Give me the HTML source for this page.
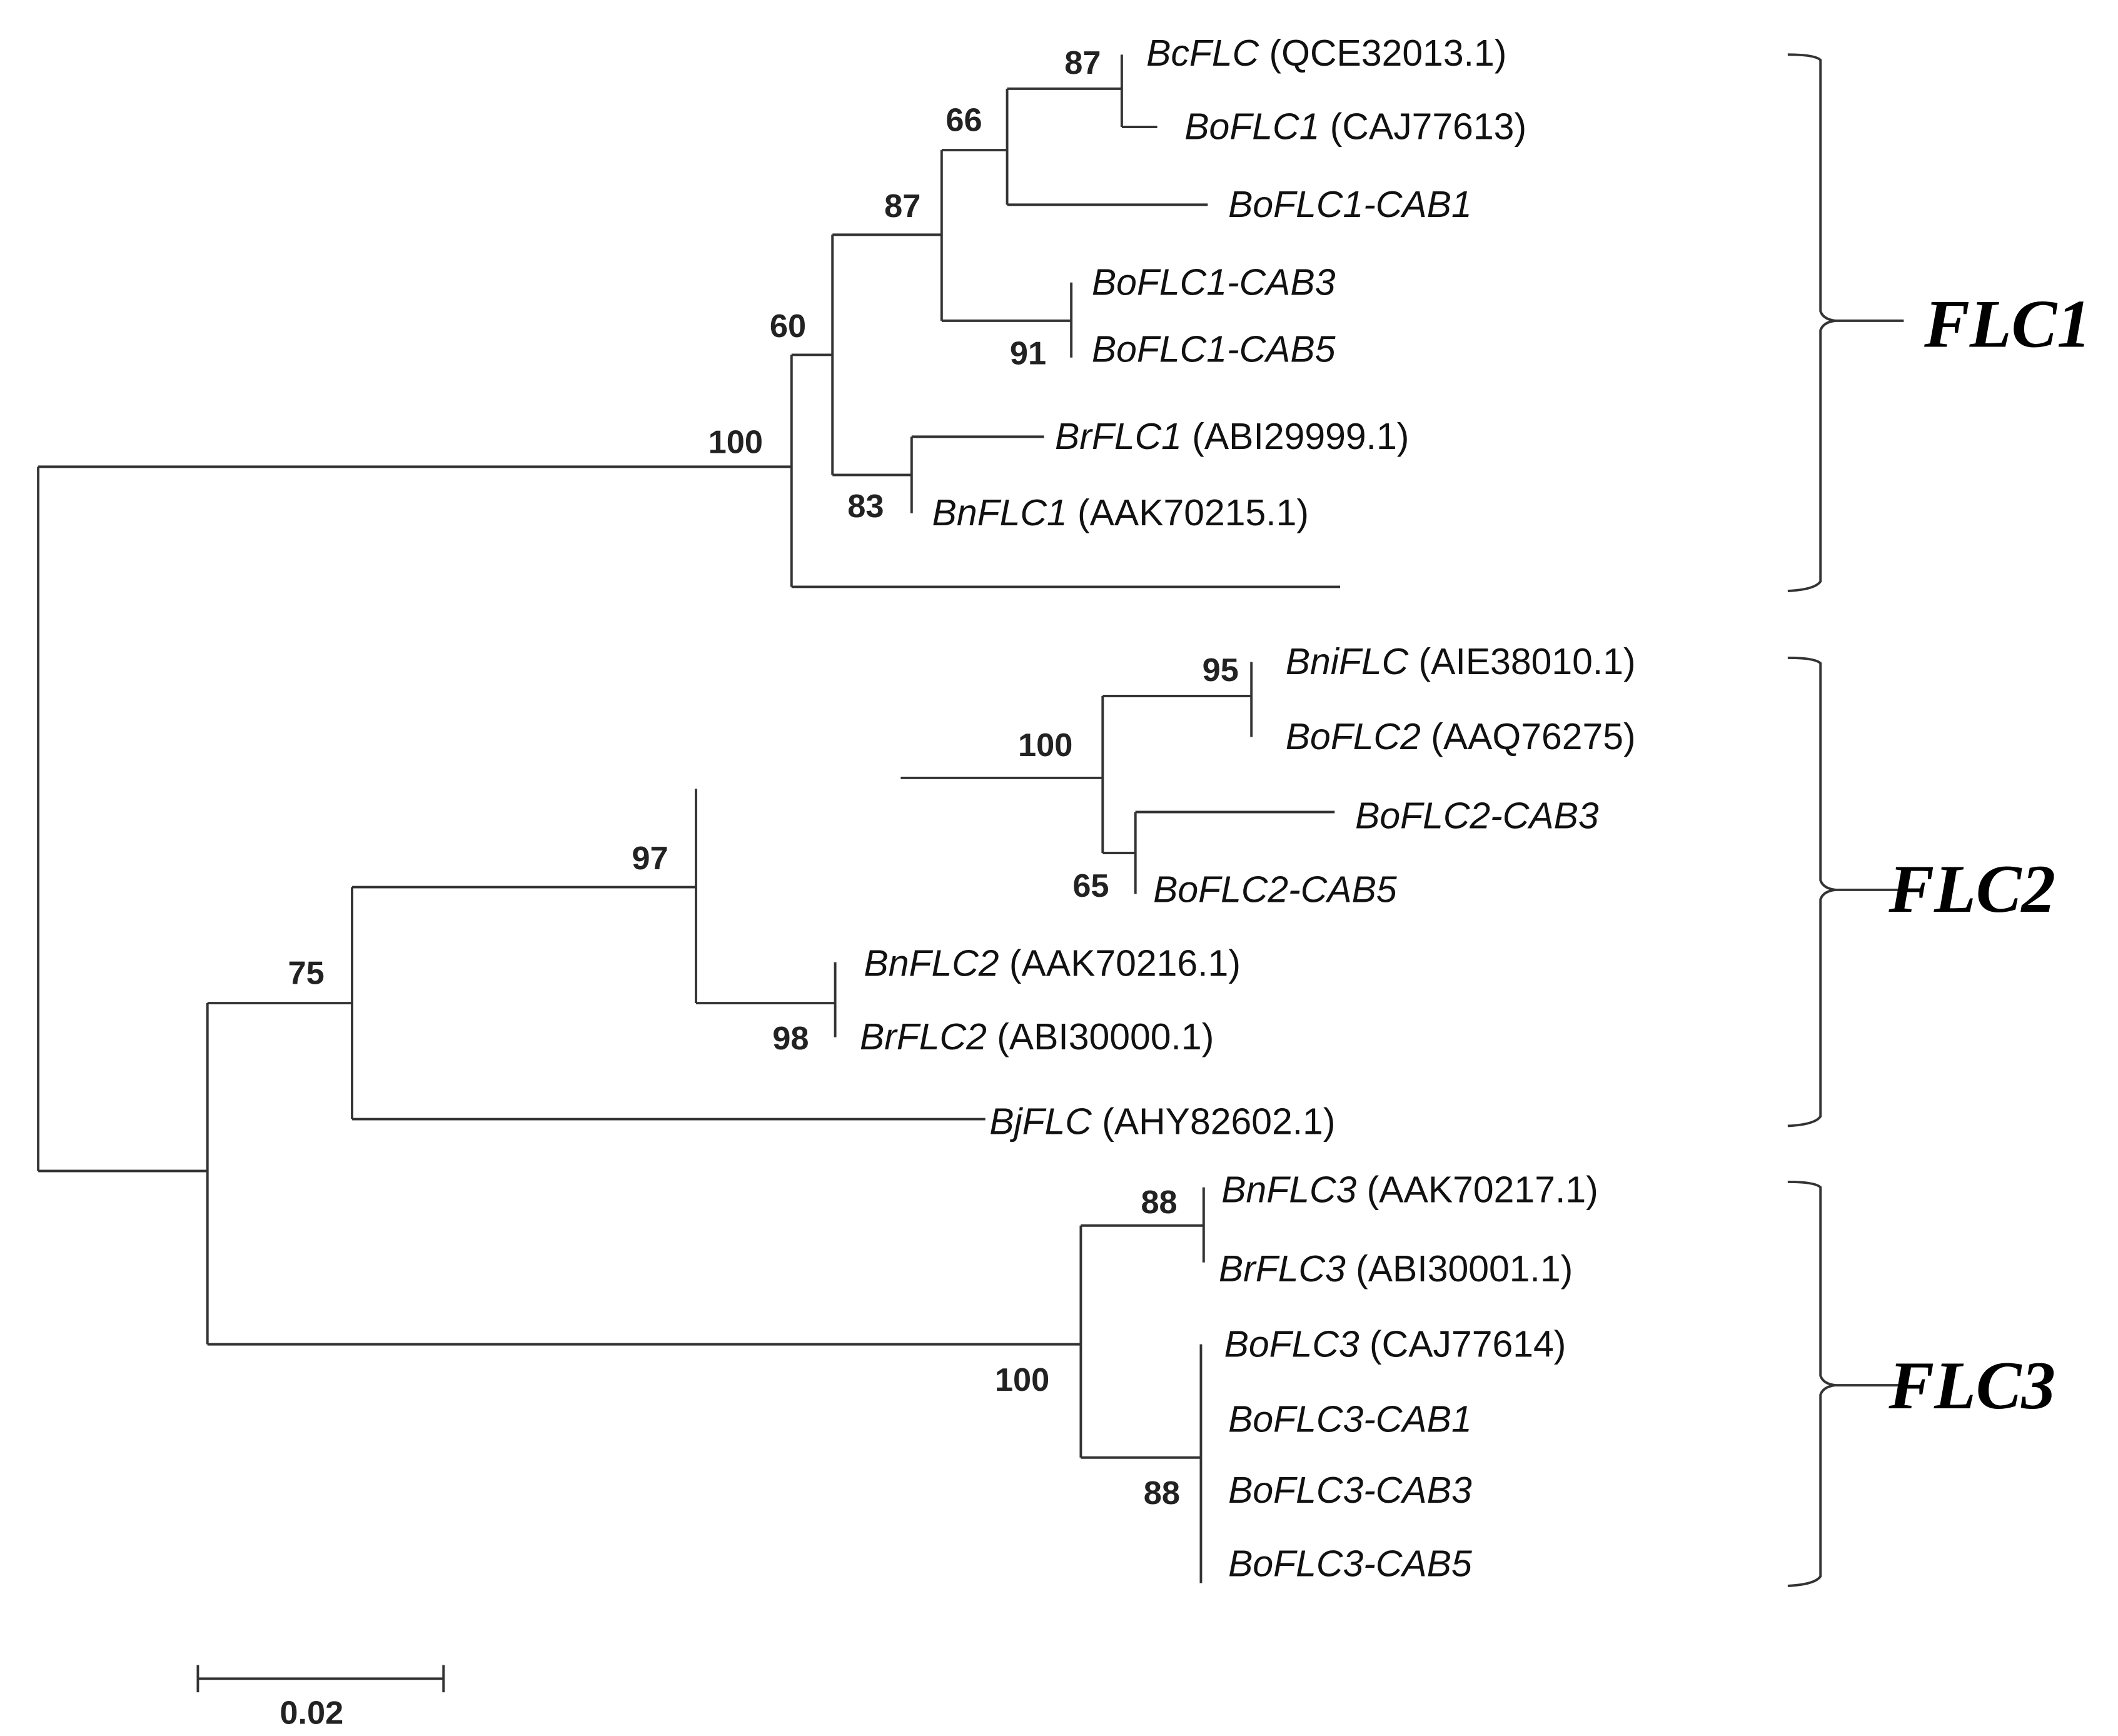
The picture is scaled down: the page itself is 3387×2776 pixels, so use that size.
<!DOCTYPE html>
<html><head><meta charset="utf-8"><style>
html,body{margin:0;padding:0;background:#fff;width:3387px;height:2776px;overflow:hidden}
svg{display:block}
.l{font-family:"Liberation Sans",sans-serif;font-size:27px;fill:#111}
.b{font-family:"Liberation Sans",sans-serif;font-size:24px;font-weight:bold;fill:#222}
.g{font-family:"Liberation Serif",serif;font-size:50px;font-weight:bold;font-style:italic;fill:#000}
</style></head><body>
<svg width="3387" height="2776" viewBox="0 0 1552 1272" xmlns="http://www.w3.org/2000/svg">
<g stroke="#333" stroke-width="1.8" fill="none">
<!-- root -->
<path d="M28 342V858M28 342H580M28 858H152"/>
<!-- FLC1 -->
<path d="M580 260V430M580 430H982M580 260H610M610 172V348M610 348H668M668 320V376M668 320H765M610 172H690M690 110V235M690 235H785M785 207V262M690 110H738M738 65V150M738 150H885M738 65H822M822 40V93M822 93H848"/>
<!-- FLC2 -->
<path d="M152 735V985M152 735H258M258 650V820M258 820H722M258 650H510M510 578V735M510 735H612M612 705V760M660 570H808M808 510V625M808 510H917M917 485V540M808 625H832M832 595V655M832 595H978"/>
<!-- FLC3 -->
<path d="M152 985H792M792 898V1068M792 898H882M882 870V925M792 1068H880M880 985V1160"/>
<!-- braces -->
<path d="M1310 40Q1330 40 1334 44V228Q1336 234 1345 235H1395M1345 235Q1336 236 1334 242V426Q1330 432 1310 433"/>
<path d="M1310 482Q1330 482 1334 486V645Q1336 651 1345 652H1395M1345 652Q1336 653 1334 659V818Q1330 824 1310 825"/>
<path d="M1310 866Q1330 866 1334 870V1008Q1336 1014 1345 1015H1395M1345 1015Q1336 1016 1334 1022V1155Q1330 1161 1310 1162"/>
<!-- scale -->
<path d="M145 1230H325M145 1220V1240M325 1220V1240"/>
</g>
<g class="l">
<text x="840" y="48"><tspan font-style="italic">BcFLC</tspan> (QCE32013.1)</text>
<text x="868" y="102"><tspan font-style="italic">BoFLC1</tspan> (CAJ77613)</text>
<text x="900" y="159" font-style="italic">BoFLC1-CAB1</text>
<text x="800" y="216" font-style="italic">BoFLC1-CAB3</text>
<text x="800" y="265" font-style="italic">BoFLC1-CAB5</text>
<text x="773" y="329"><tspan font-style="italic">BrFLC1</tspan> (ABI29999.1)</text>
<text x="683" y="385"><tspan font-style="italic">BnFLC1</tspan> (AAK70215.1)</text>
<text x="942" y="494"><tspan font-style="italic">BniFLC</tspan> (AIE38010.1)</text>
<text x="942" y="549"><tspan font-style="italic">BoFLC2</tspan> (AAQ76275)</text>
<text x="993" y="607" font-style="italic">BoFLC2-CAB3</text>
<text x="845" y="661" font-style="italic">BoFLC2-CAB5</text>
<text x="633" y="715"><tspan font-style="italic">BnFLC2</tspan> (AAK70216.1)</text>
<text x="630" y="769"><tspan font-style="italic">BrFLC2</tspan> (ABI30000.1)</text>
<text x="725" y="831"><tspan font-style="italic">BjFLC</tspan> (AHY82602.1)</text>
<text x="895" y="881"><tspan font-style="italic">BnFLC3</tspan> (AAK70217.1)</text>
<text x="893" y="939"><tspan font-style="italic">BrFLC3</tspan> (ABI30001.1)</text>
<text x="897" y="994"><tspan font-style="italic">BoFLC3</tspan> (CAJ77614)</text>
<text x="900" y="1049" font-style="italic">BoFLC3-CAB1</text>
<text x="900" y="1101" font-style="italic">BoFLC3-CAB3</text>
<text x="900" y="1155" font-style="italic">BoFLC3-CAB5</text>
</g>
<g class="b">
<text x="780" y="54">87</text>
<text x="693" y="96">66</text>
<text x="648" y="159">87</text>
<text x="564" y="247">60</text>
<text x="740" y="267">91</text>
<text x="519" y="332">100</text>
<text x="621" y="379">83</text>
<text x="881" y="499">95</text>
<text x="746" y="554">100</text>
<text x="786" y="657">65</text>
<text x="463" y="637">97</text>
<text x="211" y="721">75</text>
<text x="566" y="769">98</text>
<text x="836" y="889">88</text>
<text x="729" y="1019">100</text>
<text x="838" y="1102">88</text>
<text x="205" y="1263">0.02</text>
</g>
<g class="g">
<text x="1410" y="254">FLC1</text>
<text x="1384" y="668">FLC2</text>
<text x="1384" y="1032">FLC3</text>
</g>
</svg>
</body></html>
